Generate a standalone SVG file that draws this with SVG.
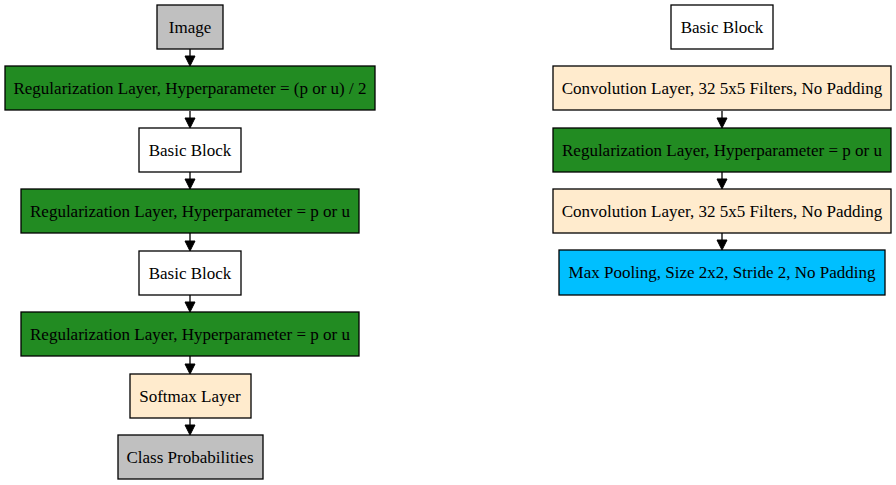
<svg xmlns="http://www.w3.org/2000/svg" width="896" height="485" viewBox="0 0 896 485">
<style>
.n rect{stroke:#000;stroke-width:1.3}
.n text{font-family:"Liberation Serif","Times New Roman",serif;font-size:17px;text-anchor:middle;fill:#000}
.e line{stroke:#000;stroke-width:1.3}
.e path{fill:#000;stroke:#000;stroke-width:1}
</style>
<rect width="896" height="485" fill="#fff"/>
<g class="e">
<line x1="190" y1="49" x2="190" y2="56"/><path d="M185,56 L195,56 L190,66 Z"/>
<line x1="190" y1="111" x2="190" y2="118"/><path d="M185,118 L195,118 L190,128 Z"/>
<line x1="190" y1="172" x2="190" y2="179"/><path d="M185,179 L195,179 L190,189 Z"/>
<line x1="190" y1="233" x2="190" y2="241"/><path d="M185,241 L195,241 L190,251 Z"/>
<line x1="190" y1="295" x2="190" y2="302"/><path d="M185,302 L195,302 L190,312 Z"/>
<line x1="190" y1="356" x2="190" y2="364"/><path d="M185,364 L195,364 L190,374 Z"/>
<line x1="190" y1="418" x2="190" y2="425"/><path d="M185,425 L195,425 L190,435 Z"/>
<line x1="722" y1="111" x2="722" y2="118"/><path d="M717,118 L727,118 L722,128 Z"/>
<line x1="722" y1="172" x2="722" y2="179"/><path d="M717,179 L727,179 L722,189 Z"/>
<line x1="722" y1="233" x2="722" y2="240"/><path d="M717,240 L727,240 L722,250 Z"/>
</g>
<g id="image" class="n"><rect x="157" y="5" width="66" height="44" fill="#c0c0c0"/><text x="190" y="32.5">Image</text></g>
<g id="reg0" class="n"><rect x="5" y="66" width="370" height="44" fill="#228b22"/><text x="190" y="93.5">Regularization Layer, Hyperparameter = (p or u) / 2</text></g>
<g id="bb1" class="n"><rect x="139" y="128" width="102" height="44" fill="#fff"/><text x="190" y="155.5">Basic Block</text></g>
<g id="reg1" class="n"><rect x="21" y="189" width="338" height="44" fill="#228b22"/><text x="190" y="216.5">Regularization Layer, Hyperparameter = p or u</text></g>
<g id="bb2" class="n"><rect x="139" y="251" width="102" height="44" fill="#fff"/><text x="190" y="278.5">Basic Block</text></g>
<g id="reg2" class="n"><rect x="21" y="312" width="338" height="44" fill="#228b22"/><text x="190" y="339.5">Regularization Layer, Hyperparameter = p or u</text></g>
<g id="softmax" class="n"><rect x="130" y="374" width="121" height="44" fill="#ffebcd"/><text x="190" y="401.5">Softmax Layer</text></g>
<g id="classprob" class="n"><rect x="118" y="435" width="145" height="44" fill="#c0c0c0"/><text x="190" y="462.5">Class Probabilities</text></g>
<g id="bbtitle" class="n"><rect x="671" y="5" width="102" height="44" fill="#fff"/><text x="722" y="32.5">Basic Block</text></g>
<g id="conv1" class="n"><rect x="553" y="66" width="338" height="44" fill="#ffebcd"/><text x="722" y="93.5">Convolution Layer, 32 5x5 Filters, No Padding</text></g>
<g id="regb" class="n"><rect x="553" y="128" width="338" height="44" fill="#228b22"/><text x="722" y="155.5">Regularization Layer, Hyperparameter = p or u</text></g>
<g id="conv2" class="n"><rect x="553" y="189" width="338" height="44" fill="#ffebcd"/><text x="722" y="216.5">Convolution Layer, 32 5x5 Filters, No Padding</text></g>
<g id="pool" class="n"><rect x="559" y="250" width="326" height="45" fill="#00bfff"/><text x="722" y="278">Max Pooling, Size 2x2, Stride 2, No Padding</text></g>
</svg>
